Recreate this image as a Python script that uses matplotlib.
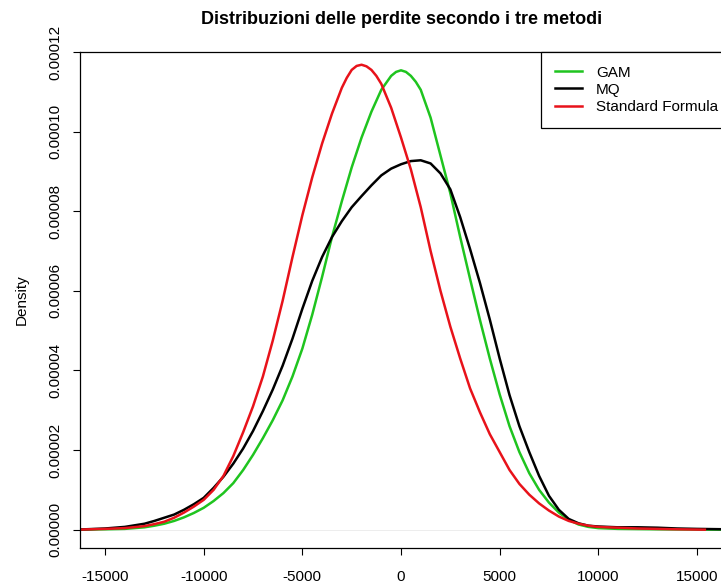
import numpy as np
import matplotlib
matplotlib.use("Agg")
import matplotlib.pyplot as plt
from matplotlib.ticker import FormatStrFormatter

plt.rcParams['font.family'] = ['Liberation Sans', 'DejaVu Sans']
plt.rcParams['axes.unicode_minus'] = False

# density curves (x = loss, y in units of 1e-5)
x_gam = [-16500, -15000, -14000, -13000, -12500, -12000, -11500, -11000, -10500, -10000,
         -9500, -9000, -8500, -8000, -7500, -7000, -6500, -6000, -5500, -5000,
         -4500, -4000, -3500, -3000, -2500, -2000, -1500, -1000, -500, -250, 0,
         250, 500, 750, 1000, 1500, 2000, 2500, 3000, 3500, 4000, 4500, 5000,
         5500, 6000, 6500, 7000, 7500, 8000, 8500, 9000, 9500, 10000,
         11000, 12000, 13000, 14500, 16500]
y_gam = [0.0, 0.01, 0.02, 0.06, 0.1, 0.15, 0.22, 0.31, 0.42, 0.55,
         0.72, 0.92, 1.17, 1.5, 1.88, 2.3, 2.75, 3.25, 3.85, 4.55,
         5.4, 6.35, 7.35, 8.25, 9.1, 9.85, 10.5, 11.05, 11.4, 11.5, 11.54,
         11.5, 11.4, 11.25, 11.05, 10.35, 9.4, 8.45, 7.35, 6.3, 5.27, 4.3, 3.4,
         2.6, 1.95, 1.42, 1.0, 0.68, 0.43, 0.25, 0.13, 0.07, 0.04,
         0.02, 0.015, 0.01, 0.005, 0.0]

x_mq = [-16500, -15000, -14000, -13000, -12500, -12000, -11500, -11000, -10500, -10000,
        -9500, -9000, -8500, -8000, -7500, -7000, -6500, -6000, -5500, -5000,
        -4500, -4000, -3500, -3000, -2500, -2000, -1500, -1000, -500, 0,
        500, 1000, 1500, 2000, 2500, 3000, 3500, 4000, 4500, 5000,
        5500, 6000, 6500, 7000, 7500, 8000, 8500, 9000, 9500, 10000,
        11000, 12000, 13000, 14000, 15000, 16500]
y_mq = [0.0, 0.03, 0.07, 0.15, 0.22, 0.3, 0.38, 0.5, 0.64, 0.8,
        1.05, 1.33, 1.66, 2.04, 2.48, 2.98, 3.52, 4.12, 4.8, 5.55,
        6.25, 6.85, 7.35, 7.75, 8.1, 8.38, 8.65, 8.9, 9.07, 9.18,
        9.26, 9.28, 9.2, 8.95, 8.55, 7.85, 7.05, 6.2, 5.28, 4.3,
        3.38, 2.6, 1.95, 1.35, 0.85, 0.5, 0.27, 0.16, 0.1, 0.08,
        0.06, 0.06, 0.05, 0.03, 0.02, 0.01]

x_std = [-16500, -15000, -14000, -13000, -12500, -12000, -11500, -11000, -10500, -10000,
         -9500, -9000, -8500, -8000, -7500, -7000, -6500, -6000, -5500, -5000,
         -4500, -4000, -3500, -3000, -2750, -2500, -2250, -2000, -1750, -1500, -1250,
         -1000, -500, 0, 500, 1000, 1500, 2000, 2500, 3000, 3500, 4000, 4500, 5000,
         5500, 6000, 6500, 7000, 7500, 8000, 8500, 9000, 9500, 10000,
         11000, 12000, 13000, 14000, 15400]
y_std = [0.0, 0.02, 0.04, 0.09, 0.14, 0.2, 0.3, 0.43, 0.58, 0.75,
         1.0, 1.35, 1.85, 2.45, 3.1, 3.85, 4.75, 5.75, 6.85, 7.9,
         8.85, 9.7, 10.45, 11.1, 11.35, 11.55, 11.65, 11.68, 11.64, 11.55, 11.4,
         11.2, 10.6, 9.85, 9.05, 8.1, 7.0, 6.0, 5.1, 4.3, 3.55, 2.95, 2.4, 1.95,
         1.5, 1.15, 0.88, 0.66, 0.48, 0.33, 0.22, 0.15, 0.1, 0.07,
         0.05, 0.03, 0.02, 0.01, 0.0]

labels = ["GAM", "MQ", "Standard Formula"]
colors = ["#1fc41f", "#000000", "#e8121a"]

fig = plt.figure(figsize=(7.21, 5.87), dpi=100)
ax = fig.add_axes([80/721, 39/587, 644/721, 496/587])

for xs, ys, lab, col in zip([x_gam, x_mq, x_std], [y_gam, y_mq, y_std], labels, colors):
    ax.plot(xs, np.array(ys) * 1e-5, color=col, lw=1.8, label=lab,
            solid_joinstyle='round')

ax.axhline(0, color="#e0e0e0", lw=0.4, zorder=0)

ax.set_xlim(-16270, 16370)
ax.set_ylim(-0.0000046, 0.00012)
ax.set_xticks([-15000, -10000, -5000, 0, 5000, 10000, 15000])
ax.set_yticks([0, 0.00002, 0.00004, 0.00006, 0.00008, 0.0001, 0.00012])
ax.yaxis.set_major_formatter(FormatStrFormatter('%.5f'))
ax.tick_params(axis='both', labelsize=11, length=5, width=0.8, direction='out')
ax.tick_params(axis='x', pad=11)
ax.tick_params(axis='y', pad=8)
for lbl in ax.get_yticklabels():
    lbl.set_rotation(90)
    lbl.set_va('center')
for sp in ax.spines.values():
    sp.set_linewidth(0.9)

ax.set_ylabel("Density", fontsize=11, labelpad=14)
ax.set_title("Distribuzioni delle perdite secondo i tre metodi", fontsize=13,
             fontweight='bold', pad=20)

leg = ax.legend(loc='upper right', bbox_to_anchor=(1 + 8/644, 1), borderaxespad=0,
                fontsize=11, fancybox=False, edgecolor='black', framealpha=1,
                handlelength=1.8, handletextpad=0.9, labelspacing=0.2,
                borderpad=0.9)
leg.get_frame().set_linewidth(0.9)

fig.savefig("out.png", dpi=100)
